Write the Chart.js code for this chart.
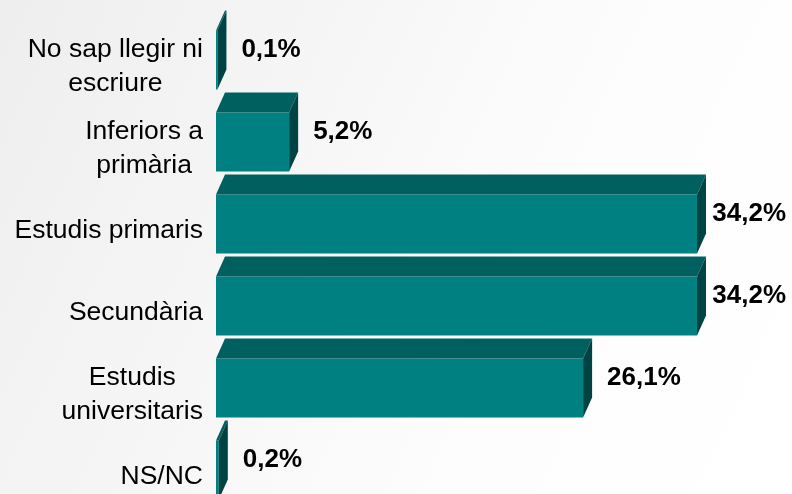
<!DOCTYPE html>
<html>
<head>
<meta charset="utf-8">
<script src="https://cdn.jsdelivr.net/npm/chart.js@4/dist/chart.umd.min.js"></script>
<style>
  html, body { margin: 0; padding: 0; overflow: hidden; }
  body {
    width: 792px; height: 494px;
    background: linear-gradient(115deg, #eeeeee 0%, #f6f6f6 35%, #fdfdfd 65%, #ffffff 100%);
  }
  canvas { display: block; }
</style>
</head>
<body>
<canvas id="myChart" width="792" height="512"></canvas>
<script>
// categories (multi-line labels) and percentages
const categories = [
    ['No sap llegir ni', 'escriure'],
    ['Inferiors a', 'primària'],
    ['Estudis primaris'],
    ['Secundària'],
    ['Estudis', 'universitaris'],
    ['NS/NC']
]
const values = [0.1, 5.2, 34.2, 34.2, 26.1, 0.2]
const valueLabels = ['0,1%', '5,2%', '34,2%', '34,2%', '26,1%', '0,2%']

const FRONT = '#008080'
const TOP = '#006060'
const SIDE = '#004343'
const DX = 9, DY = 20

// draws the fake 3d faces, the category names and the percentages
const bars3d = {
    id: 'bars3d',
    afterDatasetsDraw(chart) {
        const ctx = chart.ctx
        const meta = chart.getDatasetMeta(0)
        ctx.save()
        meta.data.forEach((bar, i) => {
            const x0 = bar.base, x1 = bar.x
            const top = bar.y - bar.height / 2
            const bottom = bar.y + bar.height / 2

            ctx.fillStyle = TOP
            ctx.beginPath()
            ctx.moveTo(x0, top)
            ctx.lineTo(x0 + DX, top - DY)
            ctx.lineTo(x1 + DX, top - DY)
            ctx.lineTo(x1, top)
            ctx.closePath()
            ctx.fill()

            ctx.fillStyle = SIDE
            ctx.beginPath()
            ctx.moveTo(x1, top)
            ctx.lineTo(x1 + DX, top - DY)
            ctx.lineTo(x1 + DX, bottom - DY)
            ctx.lineTo(x1, bottom)
            ctx.closePath()
            ctx.fill()

            // value label
            ctx.font = 'bold 26px "Liberation Sans", Arial, sans-serif'
            ctx.fillStyle = '#000'
            ctx.textAlign = 'left'
            ctx.textBaseline = 'middle'
            const w = ctx.measureText(valueLabels[i]).width
            let lx = x1 + DX + 15
            lx = Math.min(lx, chart.width - w - 6)
            ctx.fillText(valueLabels[i], lx, (top - DY + bottom) / 2)
        })

        // category labels: block right aligned, lines centred on each other
        const yScale = chart.scales.y
        ctx.font = '26.5px "Liberation Sans", Arial, sans-serif'
        ctx.fillStyle = '#000'
        ctx.textAlign = 'center'
        ctx.textBaseline = 'middle'
        const right = 203
        const lineH = 34
        categories.forEach((lines, i) => {
            const cy = yScale.getPixelForTick(i) + 7
            const maxW = Math.max(...lines.map(l => ctx.measureText(l).width))
            const cx = right - maxW / 2
            const y0 = cy - (lines.length - 1) * lineH / 2
            lines.forEach((l, k) => ctx.fillText(l, cx, y0 + k * lineH))
        })
        ctx.restore()
    }
}

new Chart(document.getElementById('myChart'), {
    type: 'bar',
    data: {
        labels: categories,
        datasets: [{
            data: values,
            backgroundColor: FRONT,
            borderWidth: 0,
            barPercentage: 1,
            categoryPercentage: 0.72
        }]
    },
    options: {
        indexAxis: 'y',
        responsive: false,
        animation: false,
        layout: { padding: { left: 216, right: 13.4, top: 19, bottom: 1 } },
        plugins: {
            legend: { display: false },
            tooltip: { enabled: false }
        },
        scales: {
            x: { min: 0, max: 40, display: false },
            y: { display: false }
        }
    },
    plugins: [bars3d]
})
</script>
</body>
</html>
